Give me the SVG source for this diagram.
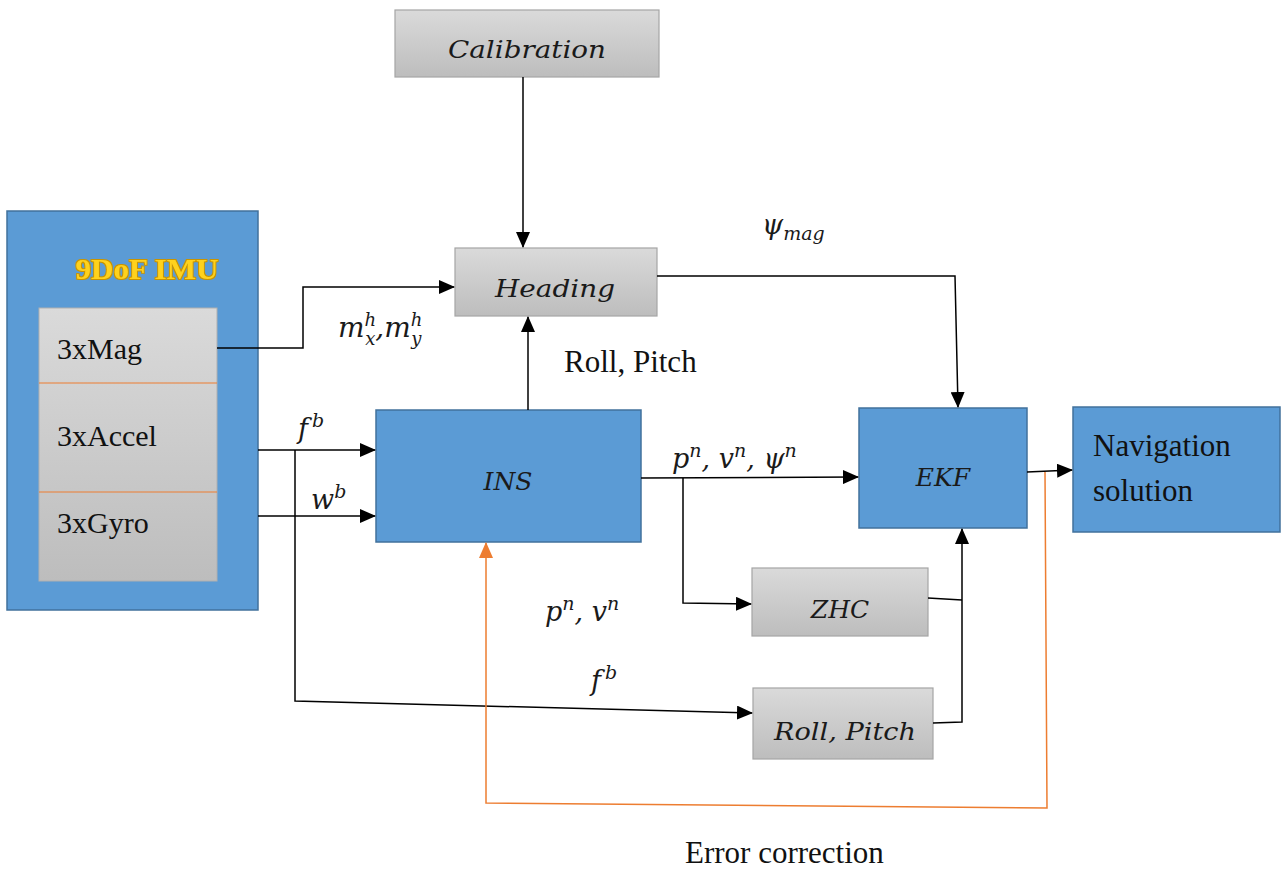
<svg xmlns="http://www.w3.org/2000/svg" width="1283" height="869" viewBox="0 0 1283 869">
<defs>
<linearGradient id="gray" x1="0" y1="0" x2="0" y2="1">
<stop offset="0" stop-color="#dadada"/>
<stop offset="1" stop-color="#bdbdbd"/>
</linearGradient>
<marker id="ab" markerWidth="16" markerHeight="14" refX="15" refY="7" orient="auto" markerUnits="userSpaceOnUse">
<path d="M0,0 L16,7 L0,14 z" fill="#000"/>
</marker>
<marker id="ao" markerWidth="16" markerHeight="14" refX="15" refY="7" orient="auto" markerUnits="userSpaceOnUse">
<path d="M0,0 L16,7 L0,14 z" fill="#ed7d31"/>
</marker>
<filter id="glow" x="-10%" y="-30%" width="120%" height="160%">
<feMorphology in="SourceAlpha" operator="dilate" radius="0.8" result="d"/>
<feFlood flood-color="#c99400"/>
<feComposite in2="d" operator="in" result="g"/>
<feMerge><feMergeNode in="g"/><feMergeNode in="SourceGraphic"/></feMerge>
</filter>
</defs>
<style>
.blue{fill:#5b9bd5;stroke:#41719c;stroke-width:1.5}
.gbox{fill:url(#gray);stroke:#a5a5a5;stroke-width:1.2}
.math{font-family:"DejaVu Serif","Liberation Serif",serif;font-style:italic;fill:#1a1a1a}
.rm{font-family:"Liberation Serif",serif;fill:#111}
.ln{fill:none;stroke:#000;stroke-width:1.5}
.or{fill:none;stroke:#ed7d31;stroke-width:1.5}
</style>
<rect width="1283" height="869" fill="#fff"/>

<g id="imu">
<rect class="blue" x="7" y="211" width="251" height="399"/>
<text x="147" y="279" text-anchor="middle" font-family="Liberation Serif,serif" font-weight="bold" font-size="30" fill="#ffd21f" filter="url(#glow)" textLength="143" lengthAdjust="spacingAndGlyphs">9DoF IMU</text>
<rect x="39" y="308" width="178" height="273" fill="url(#gray)" stroke="#b0b0b0"/>
<line x1="39" y1="383" x2="217" y2="383" stroke="#ed7d31" stroke-width="1"/>
<line x1="39" y1="492" x2="217" y2="492" stroke="#ed7d31" stroke-width="1"/>
<text class="rm" x="57" y="359" font-size="30">3xMag</text>
<text class="rm" x="57" y="446" font-size="30">3xAccel</text>
<text class="rm" x="57" y="533" font-size="30">3xGyro</text>
</g>

<g id="calibration">
<rect class="gbox" x="395" y="10" width="264" height="67"/>
<text class="math" x="527" y="58" font-size="25" text-anchor="middle" textLength="158" lengthAdjust="spacingAndGlyphs">Calibration</text>
</g>

<g id="heading">
<rect class="gbox" x="455" y="248" width="202" height="68"/>
<text class="math" x="555" y="297" font-size="25" text-anchor="middle" textLength="120" lengthAdjust="spacingAndGlyphs">Heading</text>
</g>

<g id="ins">
<rect class="blue" x="376" y="410" width="265" height="132"/>
<text class="math" x="508" y="490" font-size="25" text-anchor="middle" fill="#0d1b33">INS</text>
</g>

<g id="ekf">
<rect class="blue" x="859" y="408" width="168" height="120"/>
<text class="math" x="943" y="486" font-size="25" text-anchor="middle" fill="#0d1b33">EKF</text>
</g>

<g id="nav">
<rect class="blue" x="1073" y="407" width="207" height="125"/>
<text class="rm" x="1093" y="456" font-size="31" fill="#0d1b33">Navigation</text>
<text class="rm" x="1093" y="501" font-size="31" fill="#0d1b33">solution</text>
</g>

<g id="zhc">
<rect class="gbox" x="752" y="568" width="176" height="68"/>
<text class="math" x="840" y="618" font-size="25" text-anchor="middle">ZHC</text>
</g>

<g id="rollpitch">
<rect class="gbox" x="753" y="688" width="180" height="71"/>
<text class="math" x="845" y="740" font-size="25" text-anchor="middle" textLength="142" lengthAdjust="spacingAndGlyphs">Roll, Pitch</text>
</g>

<g id="connectors">
<polyline class="ln" points="217,348 303,348 303,287 454,287" marker-end="url(#ab)"/>
<line class="ln" x1="523" y1="77" x2="523" y2="247" marker-end="url(#ab)"/>
<line class="ln" x1="528" y1="410" x2="528" y2="317" marker-end="url(#ab)"/>
<line class="ln" x1="258" y1="450" x2="375" y2="450" marker-end="url(#ab)"/>
<line class="ln" x1="258" y1="516" x2="375" y2="516" marker-end="url(#ab)"/>
<polyline class="ln" points="295,450 295,701 752,713" marker-end="url(#ab)"/>
<line class="ln" x1="641" y1="478" x2="858" y2="477" marker-end="url(#ab)"/>
<polyline class="ln" points="683,478 683,603 751,604" marker-end="url(#ab)"/>
<polyline class="ln" points="657,276 955,276 958,407" marker-end="url(#ab)"/>
<polyline class="ln" points="928,598 962,600"/>
<polyline class="ln" points="933,723 962,722 962,529" marker-end="url(#ab)"/>
<line class="ln" x1="1027" y1="472" x2="1072" y2="470" marker-end="url(#ab)"/>
<polyline class="or" points="1045,472 1047,808 486,803 486,543" marker-end="url(#ao)"/>
</g>

<g id="labels">
<text class="math" x="762" y="234" font-size="27">ψ<tspan font-size="19" dy="6">mag</tspan></text>
<text class="math" x="338" y="337" font-size="28">m<tspan font-size="18" dy="-11">h</tspan><tspan font-size="18" dx="-11" dy="19">x</tspan><tspan dy="-8">,m</tspan><tspan font-size="18" dy="-11">h</tspan><tspan font-size="18" dx="-11" dy="19">y</tspan></text>
<text class="rm" x="564" y="372" font-size="31">Roll, Pitch</text>
<text class="math" x="298" y="438" font-size="27">f<tspan font-size="19" dx="4" dy="-11">b</tspan></text>
<text class="math" x="311" y="509" font-size="27">w<tspan font-size="19" dy="-11">b</tspan></text>
<text class="math" x="672" y="468" font-size="27">p<tspan font-size="19" dy="-11">n</tspan><tspan dy="11">, v</tspan><tspan font-size="19" dy="-11">n</tspan><tspan dy="11">, ψ</tspan><tspan font-size="19" dy="-11">n</tspan></text>
<text class="math" x="545" y="621" font-size="27">p<tspan font-size="19" dy="-11">n</tspan><tspan dy="11">, v</tspan><tspan font-size="19" dy="-11">n</tspan></text>
<text class="math" x="591" y="690" font-size="27">f<tspan font-size="19" dx="4" dy="-11">b</tspan></text>
<text class="rm" x="685" y="863" font-size="31">Error correction</text>
</g>
</svg>
